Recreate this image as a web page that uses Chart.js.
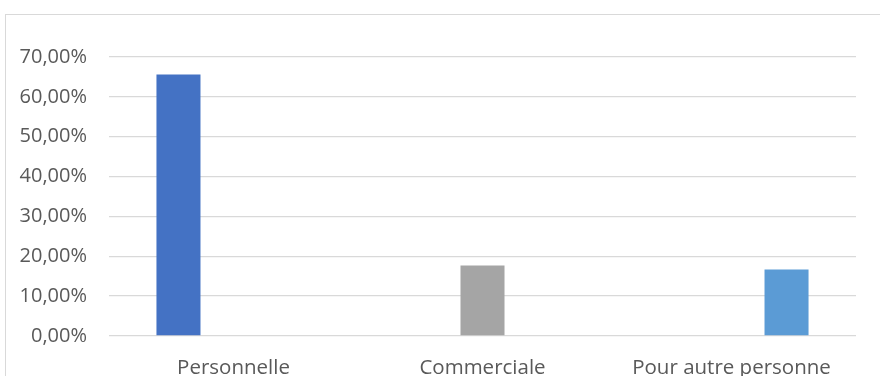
<!DOCTYPE html>
<html>
<head>
<meta charset="utf-8">
<script src="https://cdn.jsdelivr.net/npm/chart.js@4.4.1/dist/chart.umd.min.js"></script>
<style>
  html, body { margin: 0; padding: 0; background: #fff; }
  #wrap { position: relative; width: 880px; height: 376px; overflow: hidden; }
  #frame {
    position: absolute; left: 5px; top: 14px; width: 1000px; height: 500px;
    border-left: 1px solid #d9d9d9; border-top: 1px solid #d9d9d9;
  }
  canvas { position: absolute; left: 0; top: 0; }
</style>
</head>
<body>
<div id="wrap">
  <div id="frame"></div>
  <canvas id="chart" width="880" height="376"></canvas>
</div>
<script>
// Usage categories and the share answered for each (percent)
const categories = ["Personnelle", "Commerciale", "Pour autre personne"];
const personnelle = [65.6, null, null];
const commerciale = [null, 17.7, null];
const autrePersonne = [null, null, 16.7];
const yTicks = [0, 10, 20, 30, 40, 50, 60, 70];

const fmtPct = v => v.toFixed(2).replace(".", ",") + "%";
const labelFont = { family: "'Open Sans', sans-serif", size: 20 };

new Chart(document.getElementById("chart"), {
  type: "bar",
  data: {
    labels: categories,
    datasets: [
      { label: "Personnelle", data: personnelle, backgroundColor: "#4472c4" },
      { label: "Commerciale", data: commerciale, backgroundColor: "#a5a5a5" },
      { label: "Pour autre personne", data: autrePersonne, backgroundColor: "#5b9bd5" }
    ]
  },
  options: {
    responsive: false,
    animation: false,
    categoryPercentage: 0.663,
    barPercentage: 0.8,
    layout: { padding: { top: 57, right: 24, left: 0, bottom: 0 } },
    plugins: { legend: { display: false }, tooltip: { enabled: false } },
    scales: {
      x: {
        grid: { display: false },
        border: { display: false },
        ticks: { color: "#595959", font: { family: labelFont.family, size: 20.5 }, padding: 12, maxRotation: 0, autoSkip: false },
        afterFit: s => { s.height = 40; }
      },
      y: {
        min: 0,
        max: 70,
        afterBuildTicks: s => { s.ticks = yTicks.map(v => ({ value: v })); },
        grid: { color: "#d9d9d9", lineWidth: 1.3, drawTicks: false },
        border: { display: false },
        ticks: { color: "#595959", font: labelFont, padding: 22, callback: v => fmtPct(v) },
        afterFit: s => { s.width = 109; }
      }
    }
  }
});
</script>
</body>
</html>
